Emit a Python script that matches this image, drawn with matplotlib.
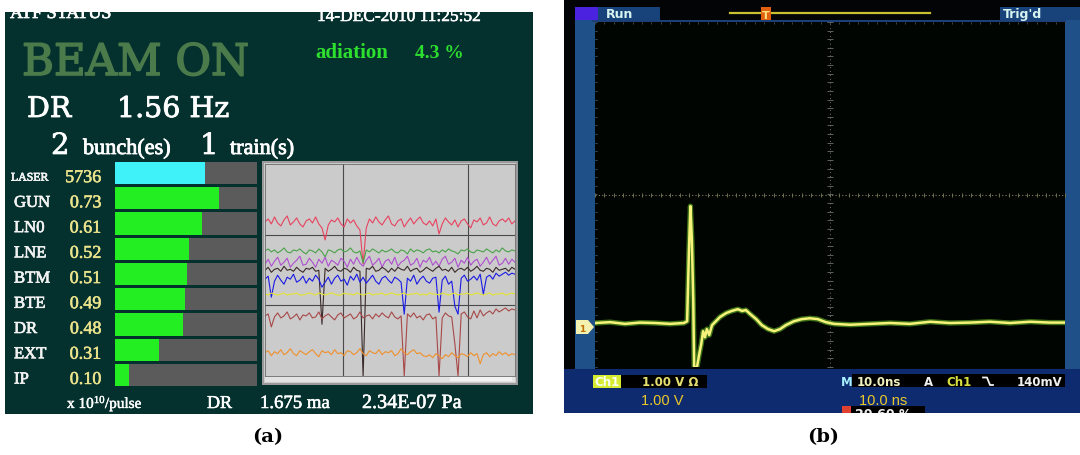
import numpy as np
import matplotlib
matplotlib.use("Agg")
import matplotlib.pyplot as plt
from matplotlib.patches import Rectangle, Polygon
import matplotlib.patheffects as pe

W, H = 1080, 456

# ---------------- data: panel (a) ----------------
bar_labels = ["LASER", "GUN", "LN0", "LNE", "BTM", "BTE", "DR", "EXT", "IP"]
bar_values = ["5736", "0.73", "0.61", "0.52", "0.51", "0.49", "0.48", "0.31", "0.10"]
bar_fraction = [0.637, 0.73, 0.61, 0.52, 0.51, 0.49, 0.48, 0.31, 0.10]
bar_colors = ["#3ff2fa"] + ["#22ee22"] * 8

# trend monitor: level (grid units, 0..3) and pixel deviations (down = +)
trend_colors = ["#e8435f", "#4aa24a", "#b04ed0", "#3a2a2a", "#1a1ae6", "#e4e430", "#a84848", "#f0902c"]
trend_levels = [2.18, 1.77, 1.61, 1.51, 1.37, 1.16, 0.85, 0.33]
red_dev = [0,-3,2,-5,1,4,-2,-6,3,0,-4,2,5,-1,-3,1,-5,2,6,18,3,-2,0,-4,2,5,-3,1,-2,4,8,42,6,-3,1,-5,0,3,-2,-6,
           2,4,-1,-3,5,0,-4,2,-2,-5,1,3,-1,4,-3,12,2,-4,0,3,-2,5,-1,-3,2,6,-2,0,-4,3,1,-5,2,4,-1,-3,0,-4,2,-1]
green_dev = [0,-2,1,-1,2,0,-3,1,2,-1,0,-2,1,3,-1,0,2,-2,1,6,-1,0,2,-1,-2,1,0,-3,1,2,0,12,-1,1,-2,0,2,-1,1,0,
             -2,1,2,-1,0,3,-2,1,-1,0,2,-1,-2,1,0,2,-1,1,-2,0,1,3,-1,0,-2,1,2,-1,0,1,-2,0,2,-1,1,-3,0,1,-1,0]
purple_dev = [2,-3,4,-1,-5,3,0,-4,5,1,-2,-6,3,2,-4,0,5,-3,1,-5,4,-2,0,3,-4,-1,5,-3,2,-5,1,4,-2,-6,3,0,-4,5,-1,-3,
              2,-5,4,0,-2,-6,3,1,-4,5,-2,0,-5,3,-1,4,-3,-6,2,0,-4,5,-2,1,-5,3,-1,-3,4,0,-5,2,-2,-6,3,1,-4,2,-3,0]
black_dev = [1,-2,3,0,-1,2,-3,1,0,2,-2,1,3,-1,0,-2,2,1,55,-1,2,0,-3,1,2,-1,0,3,-2,1,2,107,-1,0,-3,2,1,-2,0,3,
             -1,2,-2,0,1,-3,2,0,-1,3,1,-2,0,2,-1,-3,1,0,2,-2,3,0,-1,1,-2,2,0,-3,1,2,-1,0,3,-2,1,0,-1,2,-2,0]
blue_dev = [0,-3,18,2,-4,1,5,-2,0,-5,3,1,-3,4,-1,2,-4,0,8,3,-2,5,-1,-4,2,0,6,-3,1,-5,3,-2,4,0,-4,2,5,-1,-3,1,
            4,-2,0,3,35,-1,2,-4,5,0,-3,2,4,-1,-2,33,1,-3,5,2,27,35,-1,-4,2,0,-3,1,-5,15,-2,-4,0,-6,-3,-5,-7,-4,-6,-5]
yellow_dev = [0,1,-1,0,1,0,-1,1,0,0,-1,1,1,0,-1,0,1,-1,0,1,0,-1,0,1,1,-1,0,0,1,-1,0,1,0,-1,1,0,0,-1,1,0,
              -1,0,1,0,-1,1,0,0,-1,1,0,1,-1,0,0,1,-1,0,1,0,-1,1,0,0,-1,1,0,-1,0,1,0,-1,1,0,0,-1,1,0,-1,0]
brown_dev = [0,-2,11,1,-3,2,0,-4,3,1,-2,4,-1,0,-3,2,1,-4,3,0,-2,1,4,-1,-3,2,0,-2,3,1,-4,2,0,-1,3,-2,1,-3,0,2,
             -4,1,3,0,60,-2,1,-3,2,0,4,-1,-2,3,1,60,2,-3,0,1,28,60,-2,-4,1,3,-5,2,-6,0,-3,-5,-2,-7,-4,-6,-8,-5,-7,-6]
orange_dev = [0,-2,3,-1,1,-3,2,0,-4,1,3,-2,0,2,-1,-3,1,4,-2,0,-1,2,-3,1,0,3,-2,-1,2,0,-4,1,3,-2,0,1,-3,2,-1,0,
              -2,3,1,-4,0,2,-1,-3,1,0,3,4,2,5,1,3,6,2,4,0,3,5,1,2,4,0,3,1,11,2,0,4,1,3,-1,2,0,3,1,2]
trend_devs = [red_dev, green_dev, purple_dev, black_dev, blue_dev, yellow_dev, brown_dev, orange_dev]
trend_vgrid = [0.313, 0.81]

# ---------------- data: panel (b) oscilloscope ----------------
scope_t = [0, 3.2, 6.4, 9.6, 12.8, 16.0, 18.9, 19.6, 20.0, 20.3, 20.6, 20.9, 21.1, 21.7, 22.1, 22.6, 23.0,
           23.4, 23.8, 24.3, 24.9, 25.7, 26.6, 27.9, 29.1, 30.4, 31.3, 32.1, 33.0, 34.3, 35.5, 36.8, 38.1,
           39.4, 40.6, 42.3, 44.0, 45.7, 47.4, 49.1, 50.9, 54.3, 58.5, 62.8, 67.0, 71.3, 75.5, 79.8, 84.0,
           88.3, 92.6, 96.8, 100.0]
scope_v = [-2.98, -2.96, -3.00, -2.97, -2.98, -3.00, -2.98, -2.94, -1.26, -0.27, -1.03, -2.42, -4.0, -4.0,
           -3.75, -3.47, -3.17, -3.31, -3.12, -3.26, -3.03, -2.94, -2.84, -2.75, -2.70, -2.66, -2.70, -2.68,
           -2.77, -2.89, -3.03, -3.12, -3.17, -3.12, -3.03, -2.94, -2.89, -2.87, -2.89, -2.96, -3.00, -3.02,
           -3.00, -2.98, -3.00, -2.95, -2.98, -2.97, -2.95, -2.98, -2.95, -2.97, -2.97]

# ---------------- figure ----------------
plt.rcParams["mathtext.fontset"] = "custom"
plt.rcParams["mathtext.rm"] = "Liberation Serif"
plt.rcParams["mathtext.it"] = "Liberation Serif:italic"
fig = plt.figure(figsize=(W / 100, H / 100), dpi=100)
fig.patch.set_facecolor("white")
SERIF = ["Liberation Serif", "DejaVu Serif"]
DSERIF = ["DejaVu Serif"]
SANS = ["DejaVu Sans"]
LSANS = ["Liberation Sans", "DejaVu Sans"]


def box(x0, y0, x1, y1):
    return [x0 / W, 1 - y1 / H, (x1 - x0) / W, (y1 - y0) / H]


ov = fig.add_axes([0, 0, 1, 1], zorder=0)
ov.set_xlim(0, W)
ov.set_ylim(H, 0)
ov.axis("off")


def rect(x0, y0, x1, y1, color, z=1, **kw):
    ov.add_patch(Rectangle((x0, y0), x1 - x0, y1 - y0, facecolor=color, edgecolor="none", zorder=z, **kw))


def txt(x, y, s, size, color, family=SERIF, weight="normal", ha="left", va="baseline", z=5, thick=0):
    t = ov.text(x, y, s, fontsize=size, color=color, family=family, weight=weight, ha=ha, va=va, zorder=z)
    if thick:
        t.set_path_effects([pe.withStroke(linewidth=thick, foreground=color)])
    return t


# ---- panel (a) background and texts ----
PANEL_A = "#04302e"
rect(5, 0, 533, 415, PANEL_A)
txt(10, 19, "ATF STATUS", 13, "white", thick=0.5)
txt(317, 22, "14-DEC-2010 11:25:52", 12.5, "white", thick=0.4)
rect(0, 0, 560, 13, "white", z=8)
txt(22, 76, "BEAM ON", 31.3, "#4b7b4a", family=DSERIF, thick=1.2)
txt(315, 58, "adiation", 15, "#2ee02e", weight="bold")
txt(415, 58, "4.3 %", 14, "#2ee02e", weight="bold")
txt(27, 118, "DR", 20.5, "white", family=DSERIF, thick=0.6)
txt(117, 118, "1.56 Hz", 20.5, "white", family=DSERIF, thick=0.6)
txt(51, 155, "2", 21, "white", family=DSERIF, thick=0.5)
txt(83, 155, "bunch(es)", 16, "white", thick=0.6)
txt(200, 155, "1", 21, "white", family=DSERIF, thick=0.5)
txt(230, 155, "train(s)", 16, "white", thick=0.6)
txt(67, 409, "x 10$^{\\mathrm{10}}$/pulse", 11, "white", thick=0.3)
txt(207, 409, "DR", 13, "white", thick=0.4)
txt(260, 409, "1.675 ma", 13.5, "white", thick=0.4)
txt(362, 409, "2.34E-07 Pa", 14.5, "white", thick=0.4)

# ---- bar panel ----
axb = fig.add_axes(box(115, 163, 257, 387), zorder=2)
axb.patch.set_alpha(0)
n = len(bar_labels)
ypos = np.arange(n)
axb.barh(ypos, [1.0] * n, height=0.88, color="#5b5b5b", left=0)
axb.barh(ypos, bar_fraction, height=0.88, color=bar_colors, left=0)
axb.set_xlim(0, 1)
axb.set_ylim(n - 1 + 0.44, -0.44)
axb.axis("off")
for i, (lab, val) in enumerate(zip(bar_labels, bar_values)):
    t1 = axb.text(-101 / 142 if lab != "LASER" else -104 / 142, i + 0.18, lab,
                  fontsize=8.5 if lab == "LASER" else 12, color="#f2f2f2", family=SERIF,
                  va="center", ha="left", clip_on=False)
    t2 = axb.text(-14 / 142, i + 0.18, val, fontsize=13, color="#ece48c", family=SERIF,
                  va="center", ha="right", clip_on=False)
    t1.set_path_effects([pe.withStroke(linewidth=0.5, foreground="#f2f2f2")])
    t2.set_path_effects([pe.withStroke(linewidth=0.4, foreground="#ece48c")])

# ---- trend monitor ----
rect(262, 162, 518, 386, "#9a9a9a", z=1)
rect(264, 164, 516, 384, "#cbcbcb", z=1.1)
rect(265, 377, 515, 383, "#e2e2e2", z=1.2)
rect(450, 378, 512, 382, "#f2f2f2", z=1.3)
axt = fig.add_axes(box(265, 165, 515, 377), zorder=2)
axt.set_facecolor("#cbcbcb")
for col, lev, dev in zip(trend_colors, trend_levels, trend_devs):
    x = np.linspace(0, 1, len(dev))
    y = lev - np.asarray(dev, float) / 70.7
    axt.plot(x, y, color=col, lw=0.8)
axt.set_xlim(0, 1)
axt.set_ylim(0, 3)
for gx in trend_vgrid:
    axt.axvline(gx, color="#4a4a4a", lw=0.8, zorder=0.5)
for gy in (1, 2):
    axt.axhline(gy, color="#4a4a4a", lw=0.8, zorder=0.5)
axt.set_xticks([])
axt.set_yticks([])
for s in axt.spines.values():
    s.set_color("#6a6a6a")
    s.set_linewidth(0.6)

# ---- panel (b) background ----
BLUE = "#17427a"
rect(564, 0, 1080, 414, "#020406")
rect(575, 8, 660, 21, BLUE, z=1.2)
rect(575, 8, 598, 21, "#4a22e0", z=1.3)
rect(1000, 8, 1080, 21, BLUE, z=1.2)
rect(575, 21, 595, 372, "#1f5088", z=1.2)
rect(1065, 21, 1080, 372, "#1f5088", z=1.2)
rect(592, 21, 1066, 23, "#1c3f78", z=1.2)
rect(564, 370, 1080, 414, "#0d2b6e", z=1.2)
ov.plot([730, 930], [14, 14], color="#c8c030", lw=1.6, zorder=2)
rect(761, 8, 771, 21, "#e06010", z=2.5)
txt(766, 19, "T", 8, "#ffe080", family=SANS, weight="bold", ha="center", z=3)
rect(687, 28, 697, 42, "#d05010", z=2.5)
ov.add_patch(Polygon([[687, 24], [697, 24], [692, 28]], closed=True, facecolor="#f0e0c0", edgecolor="none", zorder=2.6))
txt(692, 40, "T", 8, "#ffe060", family=SANS, weight="bold", ha="center", z=3)
txt(606, 18, "Run", 9, "#d8f4f0", family=SANS, weight="bold")
txt(1003, 18, "Trig'd", 9, "#d8f4f0", family=SANS, weight="bold")
# ground marker
ov.add_patch(Polygon([[576, 321], [588, 321], [594, 328], [588, 335], [576, 335]], closed=True,
                     facecolor="#f4f0b0", edgecolor="none", zorder=3))
txt(582, 332, "1", 6.5, "#c07000", family=SANS, weight="bold", ha="center", z=4)

# status bar
rect(593, 376, 621, 389, "#d6ea30", z=2)
txt(607, 386, "Ch1", 8.5, "#f8fff0", family=SANS, weight="bold", ha="center", z=3)
rect(621, 376, 707, 389, "#000000", z=2)
txt(642, 386, "1.00 V \u03a9", 8.5, "#e6e070", family=SANS, weight="bold", z=3)
rect(852, 375, 1065, 388, "#000000", z=2)
txt(841, 386, "M", 8.5, "#a8f0ff", family=SANS, weight="bold", z=3)
txt(857, 386, "10.0ns", 8.5, "#f0f0c0", family=SANS, weight="bold", z=3)
txt(924, 386, "A", 8.5, "#f0f0f0", family=SANS, weight="bold", z=3)
txt(946, 386, "Ch1", 8.5, "#d8e040", family=SANS, weight="bold", z=3)
ov.plot([983, 987, 990, 993], [378.5, 378.5, 386, 386], color="#f0f0f0", lw=1.3, zorder=3)
txt(1017, 386, "140mV", 8.5, "#f0f0f0", family=SANS, weight="bold", z=3)
txt(641, 405, "1.00 V", 10.5, "#ecc828", family=LSANS, z=3)
txt(859, 405, "10.0 ns", 10.5, "#ecc828", family=LSANS, z=3)
rect(842, 407, 851, 414, "#e04030", z=2)
rect(851, 407, 925, 414, "#000000", z=2)
txt(855, 418, "20.60 %", 9, "#f0f0f0", family=SANS, weight="bold", z=3)
rect(560, 414, 1080, 456, "white", z=8)

# ---- oscilloscope screen ----
axs = fig.add_axes(box(595, 23, 1065, 368), zorder=2)
axs.set_facecolor("#010502")
axs.set_xlim(0, 100)
axs.set_ylim(-4, 4)
axs.set_xticks([])
axs.set_yticks([])
for s in axs.spines.values():
    s.set_visible(False)
axs.axvline(50, color="#707070", lw=0.7, ls=(0, (1, 3)))
axs.axhline(0, color="#808060", lw=0.8, ls=(0, (1, 2)))
mt = np.arange(-4, 4.01, 0.2)
axs.plot(np.full_like(mt, 50), mt, ls="none", marker="_", ms=4, color="#606060", mew=0.7)
mx = np.arange(0, 100.1, 2)
axs.plot(mx, np.zeros_like(mx), ls="none", marker="|", ms=3, color="#707050", mew=0.7)
axs.plot(mx, np.full_like(mx, 3.98), ls="none", marker="|", ms=2, color="#505050", mew=0.6)
axs.plot(np.full_like(mt, 0.3), mt, ls="none", marker="_", ms=2, color="#406080", mew=0.6)
axs.plot(scope_t, scope_v, color="#58a020", lw=3.8, alpha=0.7, solid_joinstyle="round")
axs.plot(scope_t, scope_v, color="#f6f27a", lw=1.8, solid_joinstyle="round")

# ---- captions ----
fig.text(268 / W, 1 - 437 / H, "(a)", fontsize=14, weight="bold", family=["DejaVu Serif"],
         ha="center", va="center", zorder=10)
fig.text(823 / W, 1 - 437 / H, "(b)", fontsize=14, weight="bold", family=["DejaVu Serif"],
         ha="center", va="center", zorder=10)

fig.savefig("out.png", dpi=100, facecolor="white")
